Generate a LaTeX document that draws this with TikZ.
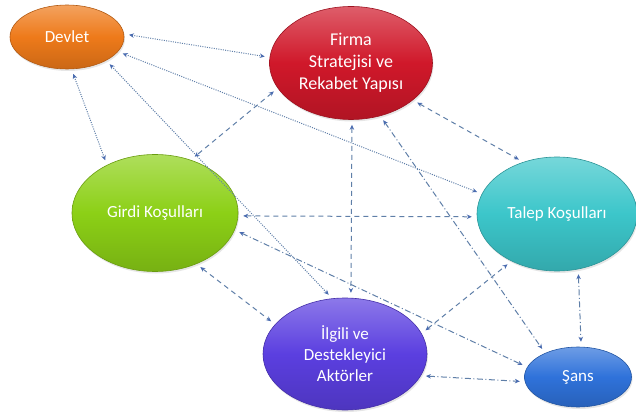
\documentclass[tikz,border=0pt]{standalone}
\usepackage{fontspec}
\setmainfont{Carlito}
\usetikzlibrary{arrows.meta,shapes.geometric,shadows}
\definecolor{devletc}{HTML}{EE7A1A}
\definecolor{firmac}{HTML}{D0182A}
\definecolor{girdic}{HTML}{8CD016}
\definecolor{talepc}{HTML}{3CC6CA}
\definecolor{ilgilic}{HTML}{5B3FE0}
\definecolor{sansc}{HTML}{2F72DA}
\definecolor{linkc}{HTML}{5F7FA8}
\definecolor{tipc}{HTML}{4A6CB0}
\tikzset{blob/.style={ellipse,inner sep=0pt,align=center,text=white,font=\fontsize{17}{21}\selectfont,
  draw=#1!75!black,line width=.6pt,top color=#1!70!white,bottom color=#1!85!black,middle color=#1,
  drop shadow={opacity=.2,shadow xshift=1pt,shadow yshift=-2pt}}}
\tikzset{lnk/.style={>={Stealth[length=5pt,width=4.5pt,color=tipc]},<->,color=linkc,line width=1pt,shorten <=5pt,shorten >=5pt}}
\tikzset{dotlnk/.style={lnk,dash pattern=on 1pt off 1.3pt}}
\tikzset{dashlnk/.style={lnk,dash pattern=on 5pt off 4pt}}
\tikzset{dotdashlnk/.style={lnk,dash pattern=on 6pt off 2.5pt on 1pt off 2.5pt}}

\begin{document}
\begin{tikzpicture}[x=1pt,y=-1pt]
\useasboundingbox (0,0) rectangle (636,419);
\node[blob=devletc,minimum width=114,minimum height=64] (devlet) at (67,37) {Devlet};
\node[blob=firmac,minimum width=163,minimum height=113,font=\fontsize{18}{22}\selectfont] (firma) at (351,63) {Firma\\Stratejisi ve\\Rekabet Yapısı};
\node[blob=girdic,minimum width=166,minimum height=117] (girdi) at (155,213) {Girdi Koşulları};
\node[blob=talepc,minimum width=160,minimum height=114] (talep) at (557,214) {Talep Koşulları};
\node[blob=ilgilic,minimum width=164,minimum height=112] (ilgili) at (345,354) {İlgili ve\\Destekleyici\\Aktörler};
\node[blob=sansc,minimum width=107,minimum height=60] (sans) at (578,377) {Şans};

\draw[dotlnk](devlet.3)--(firma.176);\draw[dotlnk](devlet.-16)--(talep.165);
\draw[dotlnk](devlet.-82)--(girdi.135);\draw[dotlnk](devlet.-31)--(ilgili.103);
\draw[dashlnk](firma.199)--(girdi.56);\draw[dashlnk](firma.-89)--(ilgili.84);
\draw[dashlnk](firma.-31)--(talep.123);\draw[dotdashlnk](firma.-61)--(sans.144);
\draw[dashlnk](girdi.-2)--(talep.182);\draw[dotdashlnk](girdi.-12)--(sans.169);
\draw[dashlnk](girdi.-51)--(ilgili.157);\draw[dashlnk](ilgili.15)--(talep.226);
\draw[dotdashlnk](ilgili.-16)--(sans.185);\draw[dotdashlnk](talep.-69)--(sans.84);
\end{tikzpicture}
\end{document}
